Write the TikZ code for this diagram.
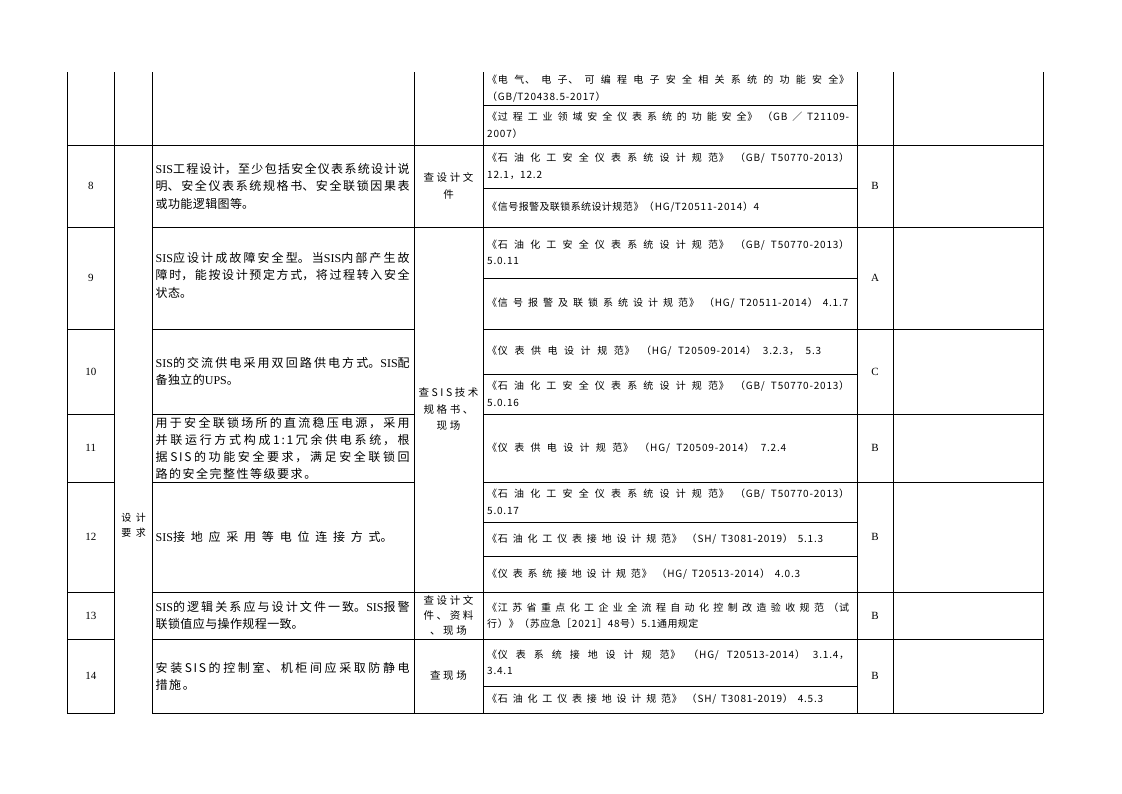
\documentclass[tikz,border=0pt]{standalone}
\usepackage{fontspec}
\setmainfont{Liberation Serif}
\newfontfamily\lat{Liberation Serif}
\newfontfamily\cjkd{Noto Sans CJK SC}
\newfontfamily\cjkw{Noto Sans CJK SC}[LetterSpace=14]
\newfontfamily\cjkr{Noto Sans CJK SC}[LetterSpace=8]
\newfontfamily\cjkm{Noto Sans CJK SC}[LetterSpace=24]
\newfontfamily\cjkc{Noto Sans CJK SC}[LetterSpace=45]
\XeTeXlinebreaklocale "zh"
\XeTeXlinebreakskip=0pt plus 4pt
\tolerance=10000
\hbadness=10000
\hfuzz=20pt
\newcommand\reffont{\fontsize{10}{16.5}\cjkr\XeTeXlinebreakskip=0.4pt plus 6pt\relax}
\newcommand\descfont{\fontsize{12}{17.5}\cjkd\XeTeXlinebreakskip=0.4pt plus 6pt\relax}
\newcommand\widefont{\fontsize{12}{17}\cjkw\XeTeXlinebreakskip=1.5pt plus 6pt\relax}
\newcommand\fullln{\parfillskip=0pt\relax}
\begin{document}
\begin{tikzpicture}[x=1pt,y=-1pt,
  grid/.style={line width=0.9pt,black,line cap=rect},
  refcell/.style={text width=362pt,align=justify,inner sep=0pt,anchor=west,font=\reffont},
  refline/.style={refcell,text width=#1},
  desccell/.style={text width=254pt,align=justify,inner sep=0pt,anchor=west,font=\descfont},
  descwide/.style={desccell,font=\widefont},
  methcell/.style={align=center,inner sep=0pt,font=\fontsize{10.5}{16.5}\cjkm},
  numcell/.style={inner sep=0pt,font=\fontsize{11}{13}\lat},
  catcell/.style={align=center,inner sep=0pt,font=\fontsize{10}{15}\cjkc}]
\useasboundingbox (0,0) rectangle (1122,793);
% vertical rules
\foreach \vx in {67,114.5,152.5,414,483,857,893,1043}
  \draw[grid] (\vx,72) -- (\vx,713);
% horizontal rules inside the reference column only
\foreach \hy in {105,188,278,374,522,556,686}
  \draw[grid] (483,\hy) -- (857,\hy);
% full width
\draw[grid] (67,145) -- (1043,145);
% all but the merged category column
\foreach \hy in {227,592,639,713}{
  \draw[grid] (67,\hy) -- (114.5,\hy);
  \draw[grid] (152.5,\hy) -- (1043,\hy);}
% rows inside the merged method cell
\foreach \hy in {329,414,482}{
  \draw[grid] (67,\hy) -- (114.5,\hy);
  \draw[grid] (152.5,\hy) -- (414,\hy);
  \draw[grid] (483,\hy) -- (1043,\hy);}
% numbers
\node[numcell] (n8) at (90.75,186) {8};
\node[numcell] (n9) at (90.75,278) {9};
\node[numcell] (n10) at (90.75,371.5) {10};
\node[numcell] (n11) at (90.75,448) {11};
\node[numcell] (n12) at (90.75,537) {12};
\node[numcell] (n13) at (90.75,615.5) {13};
\node[numcell] (n14) at (90.75,676) {14};
% category
\node[catcell] (cat) at (133.5,525) {设计\\要求};
% descriptions
\node[desccell] (d8) at (155.5,186) {{\lat SIS}工程设计，至少包括安全仪表系统设计说\linebreak 明、安全仪表系统规格书、安全联锁因果表\linebreak 或功能逻辑图等。};
\node[desccell] (d9) at (155.5,275) {{\lat SIS}应设计成故障安全型。当{\lat SIS}内部产生故\linebreak 障时，能按设计预定方式，将过程转入安全\linebreak 状态。};
\node[desccell] (d10) at (155.5,371.5) {{\lat SIS}的交流供电采用双回路供电方式。{\lat SIS}配\linebreak 备独立的{\lat UPS}。};
\node[descwide] (d11) at (155.5,448) {用于安全联锁场所的直流稳压电源，采用\linebreak 并联运行方式构成1:1冗余供电系统，根\linebreak 据SIS的功能安全要求，满足安全联锁回\linebreak 路的安全完整性等级要求。};
\node[desccell,text width=237pt] (d12) at (155.5,537) {\fullln{\lat SIS}接地应采用等电位连接方式。\par};
\node[desccell] (d13) at (155.5,615.5) {{\lat SIS}的逻辑关系应与设计文件一致。{\lat SIS}报警\linebreak 联锁值应与操作规程一致。};
\node[descwide] (d14) at (155.5,676) {安装SIS的控制室、机柜间应采取防静电\linebreak 措施。};
% methods
\node[methcell] (m8) at (448.5,186) {查设计文\\件};
\node[methcell] (m9) at (448.5,409.5) {查SIS技术\\规格书、\\现场};
\node[methcell,font=\fontsize{10.5}{15}\cjkm] (m13) at (448.5,615.5) {查设计文\\件、资料\\、现场};
\node[methcell] (m14) at (448.5,676) {查现场};
% references
\node[refcell] (r1) at (487,88.5) {《电气、电子、可编程电子安全相关系统的功能安全》\linebreak（GB/T20438.5-2017）};
\node[refcell] (r2) at (487,125) {《过程工业领域安全仪表系统的功能安全》（GB／T21109-\linebreak 2007）};
\node[refcell] (r3) at (487,166.5) {《石油化工安全仪表系统设计规范》（GB/T50770-2013）\linebreak 12.1，12.2};
\node[refcell] (r4) at (487,207.5) {《信号报警及联锁系统设计规范》（HG/T20511-2014）4};
\node[refcell] (r5) at (487,252.5) {《石油化工安全仪表系统设计规范》（GB/T50770-2013）\linebreak 5.0.11};
\node[refline=361pt] (r6) at (487,303.5) {\fullln《信号报警及联锁系统设计规范》（HG/T20511-2014）4.1.7\par};
\node[refline=334pt] (r7) at (487,351.5) {\fullln《仪表供电设计规范》（HG/T20509-2014）3.2.3，5.3\par};
\node[refcell] (r8) at (487,394) {《石油化工安全仪表系统设计规范》（GB/T50770-2013）\linebreak 5.0.16};
\node[refline=299pt] (r9) at (487,448) {\fullln《仪表供电设计规范》（HG/T20509-2014）7.2.4\par};
\node[refcell] (r10) at (487,502) {《石油化工安全仪表系统设计规范》（GB/T50770-2013）\linebreak 5.0.17};
\node[refline=336pt] (r11) at (487,539) {\fullln《石油化工仪表接地设计规范》（SH/T3081-2019）5.1.3\par};
\node[refline=313pt] (r12) at (487,574) {\fullln《仪表系统接地设计规范》（HG/T20513-2014）4.0.3\par};
\node[refcell] (r13) at (487,615.5) {《江苏省重点化工企业全流程自动化控制改造验收规范（试\linebreak 行）》（苏应急［2021］48号）5.1通用规定};
\node[refcell] (r14) at (487,662.5) {《仪表系统接地设计规范》（HG/T20513-2014）3.1.4，\linebreak 3.4.1};
\node[refline=336pt] (r15) at (487,699.5) {\fullln《石油化工仪表接地设计规范》（SH/T3081-2019）4.5.3\par};
% grades
\node[numcell] (g8) at (875,186) {B};
\node[numcell] (g9) at (875,278) {A};
\node[numcell] (g10) at (875,371.5) {C};
\node[numcell] (g11) at (875,448) {B};
\node[numcell] (g12) at (875,537) {B};
\node[numcell] (g13) at (875,615.5) {B};
\node[numcell] (g14) at (875,676) {B};
\end{tikzpicture}
\end{document}
